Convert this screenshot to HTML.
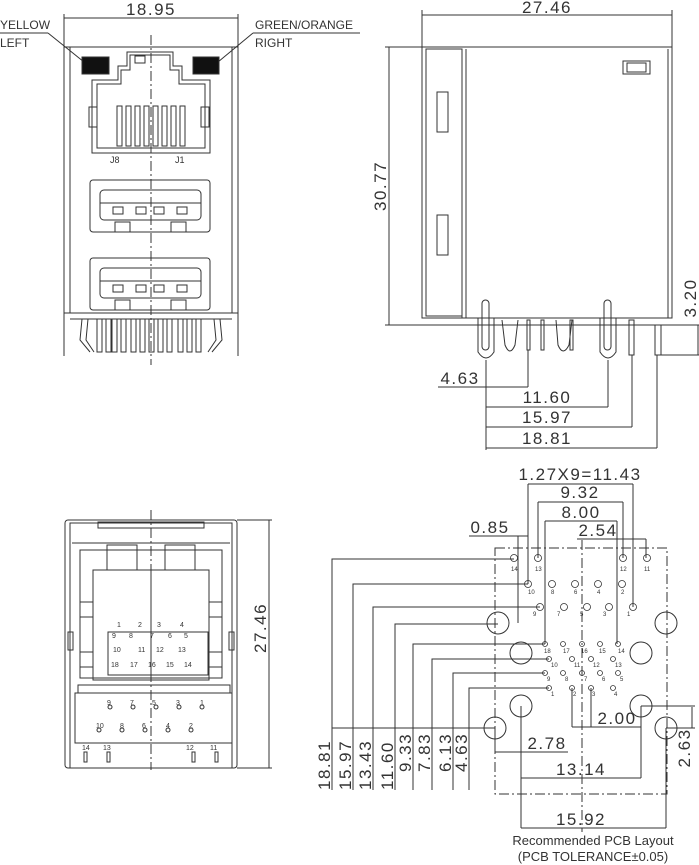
<!DOCTYPE html>
<html><head><meta charset="utf-8"><style>
html,body{margin:0;padding:0;background:#fff;}
svg{display:block}
text{font-family:"Liberation Sans","DejaVu Sans",sans-serif;fill:#333}
.d{font-size:17px;letter-spacing:1.5px}
</style></head><body>
<svg width="699" height="865" viewBox="0 0 699 865" xmlns="http://www.w3.org/2000/svg" fill="none" stroke="#333" stroke-width="1">
<!-- ===== FRONT VIEW ===== -->
<line x1="64" y1="18" x2="238" y2="18"/><line x1="64" y1="14" x2="64" y2="48"/><line x1="238" y1="14" x2="238" y2="48"/>
<text class="d" x="151" y="15" text-anchor="middle" stroke="none">18.95</text>
<text x="0" y="29" stroke="none" font-size="12">YELLOW</text>
<text x="0" y="47" stroke="none" font-size="12">LEFT</text>
<line x1="0" y1="33" x2="48" y2="33"/><line x1="48" y1="33" x2="84" y2="62"/>
<text x="255" y="29" stroke="none" font-size="12">GREEN/ORANGE</text>
<text x="255" y="47" stroke="none" font-size="12">RIGHT</text>
<line x1="253" y1="33" x2="360" y2="33"/><line x1="253" y1="33" x2="218" y2="62"/>
<rect x="82" y="57" width="27" height="17" fill="#111"/><rect x="193" y="57" width="26" height="17" fill="#111"/>
<rect x="64" y="47" width="174" height="266"/>
<line x1="70" y1="47" x2="70" y2="313"/><line x1="232" y1="47" x2="232" y2="313"/>
<line x1="64" y1="313" x2="64" y2="356"/><line x1="238" y1="313" x2="238" y2="356"/>
<!-- RJ45 -->
<path d="M92 153 V80 H118 V66 H127 V52 H173 V66 H182 V80 H210 V153 Z"/>
<path d="M97 148 V84 H121 V70 H130 V55 H170 V70 H179 V84 H205 V148 Z"/>
<rect x="135" y="56" width="10" height="7"/>
<rect x="89" y="107" width="8" height="20"/><rect x="201" y="107" width="8" height="20"/>
<g>
<rect x="117" y="106" width="5" height="40"/><rect x="126" y="106" width="5" height="40"/><rect x="135" y="106" width="5" height="40"/><rect x="144" y="106" width="5" height="40"/><rect x="153" y="106" width="5" height="40"/><rect x="162" y="106" width="5" height="40"/><rect x="171" y="106" width="5" height="40"/><rect x="180" y="106" width="5" height="40"/>
</g>
<text x="110" y="163" stroke="none" font-size="9">J8</text><text x="175" y="163" stroke="none" font-size="9">J1</text>
<!-- USB1 -->
<rect x="90" y="180" width="120" height="52" rx="3"/>
<rect x="100" y="190" width="101" height="30" rx="4"/><line x1="100" y1="203" x2="201" y2="203"/>
<rect x="113" y="207" width="10" height="7"/><rect x="136" y="207" width="10" height="7"/><rect x="154" y="207" width="10" height="7"/><rect x="177" y="207" width="10" height="7"/>
<rect x="115" y="222" width="15" height="10"/><rect x="171" y="222" width="15" height="10"/>
<!-- USB2 -->
<rect x="90" y="258" width="120" height="52" rx="3"/>
<rect x="100" y="268" width="101" height="30" rx="4"/><line x1="100" y1="281" x2="201" y2="281"/>
<rect x="113" y="285" width="10" height="7"/><rect x="136" y="285" width="10" height="7"/><rect x="154" y="285" width="10" height="7"/><rect x="177" y="285" width="10" height="7"/>
<rect x="115" y="300" width="15" height="10"/><rect x="171" y="300" width="15" height="10"/>
<line x1="64" y1="313" x2="238" y2="313"/><line x1="70" y1="319" x2="232" y2="319"/>
<g>
<rect x="97" y="319" width="5" height="33"/><rect x="106" y="319" width="5" height="33"/><rect x="112" y="319" width="5" height="33"/><rect x="121" y="319" width="5" height="33"/><rect x="131" y="319" width="5" height="33"/><rect x="140" y="319" width="5" height="33"/><rect x="149" y="319" width="5" height="33"/><rect x="158" y="319" width="5" height="33"/><rect x="167" y="319" width="5" height="33"/><rect x="178" y="319" width="5" height="33"/><rect x="187" y="319" width="5" height="33"/><rect x="196" y="319" width="5" height="33"/>
<path d="M82 319 L80 340 L90 352"/><path d="M88 319 L86 340 L94 352"/>
<path d="M220 319 L222 340 L212 352"/><path d="M214 319 L216 340 L208 352"/>
</g>
<line x1="151" y1="35" x2="151" y2="365" stroke-dasharray="10,3,2,3"/>
<!-- ===== SIDE VIEW ===== -->
<line x1="422" y1="15" x2="672" y2="15"/><line x1="422" y1="10" x2="422" y2="47"/><line x1="672" y1="10" x2="672" y2="47"/>
<text class="d" x="547" y="13" text-anchor="middle" stroke="none">27.46</text>
<line x1="389" y1="47" x2="389" y2="325"/><line x1="385" y1="47" x2="422" y2="47"/><line x1="385" y1="325" x2="422" y2="325"/>
<text class="d" x="0" y="0" transform="translate(386,186) rotate(-90)" text-anchor="middle" stroke="none">30.77</text>
<rect x="422" y="47" width="250" height="271"/>
<rect x="426" y="49" width="36" height="267"/>
<line x1="462" y1="49" x2="462" y2="318"/><line x1="466" y1="49" x2="466" y2="318"/><line x1="668" y1="49" x2="668" y2="318"/>
<rect x="437" y="92" width="11" height="40"/><rect x="437" y="215" width="11" height="40"/>
<rect x="623" y="61" width="27" height="13"/><rect x="627" y="63" width="19" height="9"/>
<line x1="422" y1="325" x2="672" y2="325"/>
<path d="M478 318 V352 Q486 364 494 352 V318"/><rect x="482" y="300" width="7" height="50" rx="3.5"/>
<path d="M600 318 V352 Q608 364 616 352 V318"/><rect x="604" y="300" width="7" height="50" rx="3.5"/>
<path d="M502 320 L505 345 Q510 357 515 345 L518 320"/><path d="M556 320 L558 345 Q563 357 569 345 L572 320"/>
<rect x="527" y="320" width="3" height="30"/><rect x="541" y="320" width="3" height="30"/><rect x="570" y="320" width="3" height="30"/>
<rect x="629" y="320" width="5" height="35"/><rect x="655" y="325" width="6" height="30"/>
<line x1="698" y1="325" x2="698" y2="355"/><line x1="672" y1="325" x2="700" y2="325"/><line x1="661" y1="355" x2="700" y2="355"/>
<text class="d" x="0" y="0" transform="translate(696,298) rotate(-90)" text-anchor="middle" stroke="none">3.20</text>
<line x1="486" y1="360" x2="486" y2="450"/>
<line x1="528" y1="350" x2="528" y2="387"/><line x1="608" y1="360" x2="608" y2="407"/><line x1="632" y1="355" x2="632" y2="427"/><line x1="657" y1="355" x2="657" y2="448"/>
<line x1="438" y1="387" x2="528" y2="387"/><text class="d" x="460" y="384" text-anchor="middle" stroke="none">4.63</text>
<line x1="486" y1="407" x2="608" y2="407"/><text class="d" x="547" y="403" text-anchor="middle" stroke="none">11.60</text>
<line x1="486" y1="427" x2="632" y2="427"/><text class="d" x="547" y="423" text-anchor="middle" stroke="none">15.97</text>
<line x1="486" y1="448" x2="657" y2="448"/><text class="d" x="547" y="444" text-anchor="middle" stroke="none">18.81</text>
<!-- ===== BOTTOM VIEW ===== -->
<rect x="65" y="520" width="172" height="248" rx="3"/>
<rect x="70" y="523" width="162" height="245"/>
<rect x="98" y="522" width="106" height="6"/>
<line x1="72" y1="543" x2="230" y2="543"/>
<rect x="80" y="550" width="142" height="128"/>
<rect x="93" y="570" width="116" height="110"/>
<line x1="151" y1="570" x2="151" y2="680"/>
<rect x="108" y="632" width="100" height="43"/>
<rect x="80" y="602" width="13" height="15"/><rect x="80" y="652" width="13" height="15"/><rect x="209" y="602" width="13" height="15"/><rect x="209" y="652" width="13" height="15"/>
<rect x="107" y="545" width="30" height="25"/><rect x="165" y="545" width="30" height="25"/>
<rect x="68" y="632" width="5" height="18"/><rect x="229" y="632" width="5" height="18"/>
<rect x="78" y="685" width="152" height="8"/>
<rect x="75" y="693" width="157" height="50"/>
<line x1="75" y1="743" x2="232" y2="743"/>
<g stroke="none" font-size="7">
<text x="117" y="627">1</text><text x="138" y="627">2</text><text x="157" y="627">3</text><text x="180" y="627">4</text>
<text x="112" y="638">9</text><text x="129" y="638">8</text><text x="150" y="638">7</text><text x="168" y="638">6</text><text x="184" y="638">5</text>
<text x="113" y="652">10</text><text x="138" y="652">11</text><text x="156" y="652">12</text><text x="178" y="652">13</text>
<text x="111" y="667">18</text><text x="130" y="667">17</text><text x="148" y="667">16</text><text x="166" y="667">15</text><text x="184" y="667">14</text>
<text x="107" y="705">9</text><text x="130" y="705">7</text><text x="152" y="705">5</text><text x="176" y="705">3</text><text x="200" y="705">1</text>
<text x="96" y="728">10</text><text x="120" y="728">8</text><text x="142" y="728">6</text><text x="166" y="728">4</text><text x="189" y="728">2</text>
<text x="82" y="750">14</text><text x="103" y="750">13</text><text x="186" y="750">12</text><text x="210" y="750">11</text>
</g>
<g>
<circle cx="110" cy="707" r="2"/><circle cx="133" cy="707" r="2"/><circle cx="156" cy="707" r="2"/><circle cx="179" cy="707" r="2"/><circle cx="202" cy="707" r="2"/>
<circle cx="99" cy="730" r="2"/><circle cx="122" cy="730" r="2"/><circle cx="145" cy="730" r="2"/><circle cx="168" cy="730" r="2"/><circle cx="191" cy="730" r="2"/>
<rect x="84" y="752" width="3" height="10"/><rect x="107" y="752" width="3" height="10"/><rect x="192" y="752" width="3" height="10"/><rect x="215" y="752" width="3" height="10"/>
</g>
<line x1="151" y1="510" x2="151" y2="770" stroke-dasharray="10,3,2,3"/>
<line x1="269" y1="520" x2="269" y2="768"/><line x1="237" y1="520" x2="272" y2="520"/><line x1="237" y1="768" x2="272" y2="768"/>
<text class="d" x="0" y="0" transform="translate(266,628) rotate(-90)" text-anchor="middle" stroke="none">27.46</text>
<!-- ===== PCB LAYOUT ===== -->
<rect x="495" y="548" width="172" height="246" stroke-dasharray="10,3,2,3"/>
<line x1="582" y1="540" x2="582" y2="832" stroke-dasharray="10,3,2,3"/>
<g>
<circle cx="498" cy="623" r="11"/><circle cx="666" cy="623" r="11"/><circle cx="521" cy="653" r="11"/><circle cx="641" cy="653" r="11"/>
<circle cx="521" cy="706" r="11"/><circle cx="641" cy="706" r="11"/><circle cx="495" cy="728" r="11"/><circle cx="666" cy="728" r="11"/>
</g>
<g stroke-width="0.8">
<circle cx="514" cy="558" r="3.5"/><circle cx="538" cy="558" r="3.5"/><circle cx="623" cy="558" r="3.5"/><circle cx="647" cy="558" r="3.5"/>
<circle cx="528" cy="584" r="3.5"/><circle cx="552" cy="584" r="3.5"/><circle cx="575" cy="584" r="3.5"/><circle cx="598" cy="584" r="3.5"/><circle cx="622" cy="584" r="3.5"/>
<circle cx="540" cy="607" r="3.5"/><circle cx="564" cy="607" r="3.5"/><circle cx="587" cy="607" r="3.5"/><circle cx="609" cy="607" r="3.5"/><circle cx="633" cy="607" r="3.5"/>
<circle cx="545" cy="644" r="2.5"/><circle cx="563" cy="644" r="2.5"/><circle cx="582" cy="644" r="2.5"/><circle cx="600" cy="644" r="2.5"/><circle cx="618" cy="644" r="2.5"/>
<circle cx="549" cy="659" r="2.5"/><circle cx="572" cy="659" r="2.5"/><circle cx="591" cy="659" r="2.5"/><circle cx="613" cy="659" r="2.5"/>
<circle cx="545" cy="673" r="2.5"/><circle cx="563" cy="673" r="2.5"/><circle cx="582" cy="673" r="2.5"/><circle cx="600" cy="673" r="2.5"/><circle cx="618" cy="673" r="2.5"/>
<circle cx="549" cy="688" r="2.5"/><circle cx="572" cy="688" r="2.5"/><circle cx="591" cy="688" r="2.5"/><circle cx="613" cy="688" r="2.5"/>
</g>
<g stroke="none" font-size="6">
<text x="511" y="571">14</text><text x="535" y="571">13</text><text x="620" y="571">12</text><text x="644" y="571">11</text>
<text x="528" y="594">10</text><text x="551" y="594">8</text><text x="574" y="594">6</text><text x="597" y="594">4</text><text x="621" y="594">2</text>
<text x="533" y="616">9</text><text x="557" y="616">7</text><text x="580" y="616">5</text><text x="603" y="616">3</text><text x="627" y="616">1</text>
<text x="544" y="653">18</text><text x="563" y="653">17</text><text x="581" y="653">16</text><text x="599" y="653">15</text><text x="618" y="653">14</text>
<text x="551" y="667">10</text><text x="574" y="667">11</text><text x="593" y="667">12</text><text x="615" y="667">13</text>
<text x="547" y="681">9</text><text x="565" y="681">8</text><text x="584" y="681">7</text><text x="602" y="681">6</text><text x="620" y="681">5</text>
<text x="551" y="696">1</text><text x="573" y="696">2</text><text x="592" y="696">3</text><text x="614" y="696">4</text>
</g>
<!-- left dims -->
<line x1="332" y1="728" x2="495" y2="728"/>
<path d="M332 790 V559 H514 M353 790 V584 H528 M373 790 V607 H540 M395 790 V624 H498 M413 790 V644 H545 M432 790 V659 H549 M453 790 V673 H545 M469 790 V688 H549"/>
<g class="d" stroke="none">
<text transform="translate(330,790) rotate(-90)">18.81</text>
<text transform="translate(351,790) rotate(-90)">15.97</text>
<text transform="translate(371,790) rotate(-90)">13.43</text>
<text transform="translate(393,790) rotate(-90)">11.60</text>
<text transform="translate(411,772) rotate(-90)">9.33</text>
<text transform="translate(430,772) rotate(-90)">7.83</text>
<text transform="translate(451,772) rotate(-90)">6.13</text>
<text transform="translate(467,772) rotate(-90)">4.63</text>
</g>
<!-- top dims -->
<line x1="528" y1="484" x2="633" y2="484"/><line x1="528" y1="484" x2="528" y2="584"/><line x1="633" y1="484" x2="633" y2="607"/>
<text class="d" x="580" y="480" text-anchor="middle" stroke="none">1.27X9=11.43</text>
<line x1="538" y1="502" x2="623" y2="502"/><line x1="538" y1="502" x2="538" y2="558"/><line x1="623" y1="502" x2="623" y2="558"/>
<text class="d" x="580" y="498" text-anchor="middle" stroke="none">9.32</text>
<line x1="545" y1="521" x2="617" y2="521"/><line x1="545" y1="521" x2="545" y2="644"/><line x1="617" y1="521" x2="617" y2="644"/>
<text class="d" x="581" y="518" text-anchor="middle" stroke="none">8.00</text>
<line x1="469" y1="536" x2="528" y2="536"/><line x1="518" y1="536" x2="518" y2="623"/>
<text class="d" x="490" y="533" text-anchor="middle" stroke="none">0.85</text>
<line x1="577" y1="539" x2="646" y2="539"/><line x1="646" y1="539" x2="646" y2="558"/>
<text class="d" x="598" y="536" text-anchor="middle" stroke="none">2.54</text>
<!-- bottom dims -->
<line x1="572" y1="688" x2="572" y2="727"/><line x1="591" y1="688" x2="591" y2="727"/><line x1="572" y1="727" x2="641" y2="727"/><line x1="641" y1="706" x2="641" y2="778"/>
<text class="d" x="617" y="724" text-anchor="middle" stroke="none">2.00</text>
<line x1="495" y1="728" x2="495" y2="752"/><line x1="495" y1="752" x2="568" y2="752"/>
<text class="d" x="547" y="749" text-anchor="middle" stroke="none">2.78</text>
<line x1="521" y1="706" x2="521" y2="828"/><line x1="521" y1="778" x2="641" y2="778"/>
<text class="d" x="581" y="775" text-anchor="middle" stroke="none">13.14</text>
<line x1="666" y1="728" x2="666" y2="828"/><line x1="521" y1="828" x2="666" y2="828"/>
<text class="d" x="581" y="825" text-anchor="middle" stroke="none">15.92</text>
<line x1="692" y1="707" x2="692" y2="728"/><line x1="641" y1="706" x2="695" y2="706"/><line x1="666" y1="728" x2="695" y2="728"/>
<text class="d" x="0" y="0" transform="translate(690,748) rotate(-90)" text-anchor="middle" stroke="none">2.63</text>
<text x="593" y="845" text-anchor="middle" stroke="none" font-size="13">Recommended PCB Layout</text>
<text x="593" y="861" text-anchor="middle" stroke="none" font-size="13">(PCB TOLERANCE±0.05)</text>
</svg>
</body></html>
